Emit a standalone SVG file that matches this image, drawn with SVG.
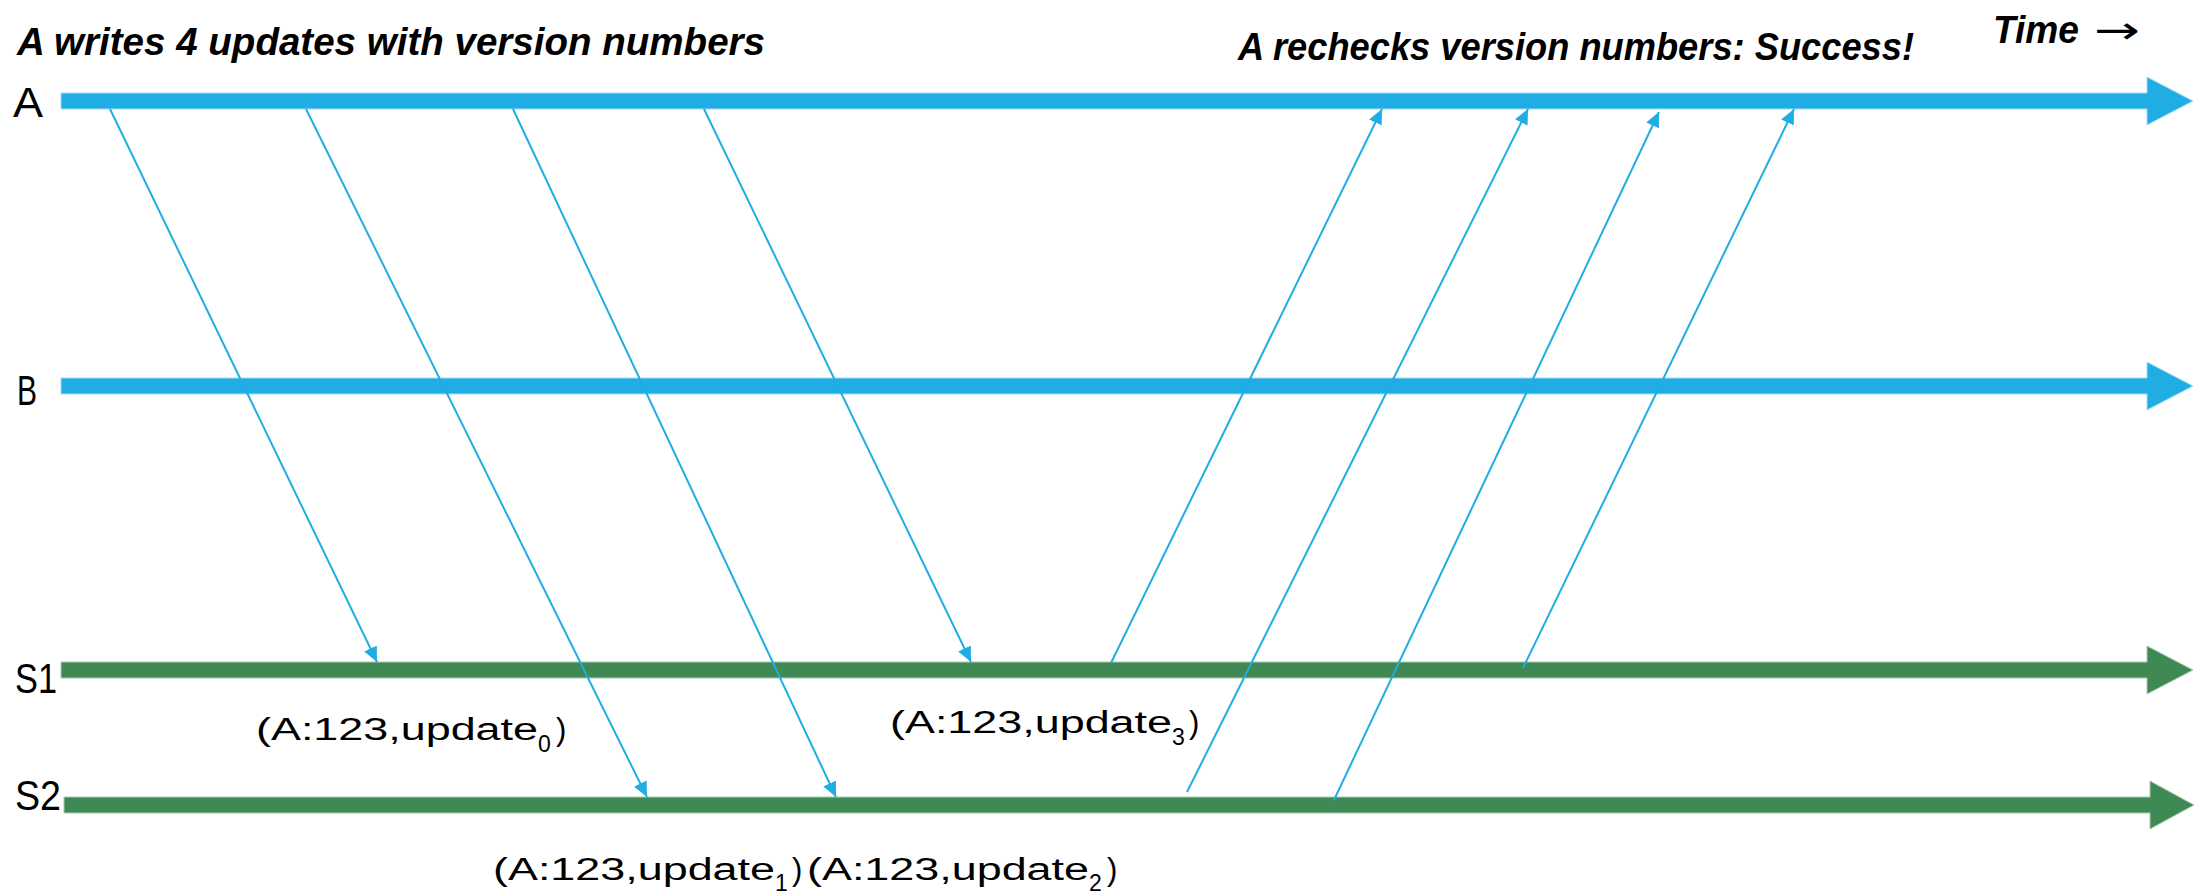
<svg xmlns="http://www.w3.org/2000/svg" width="2195" height="892" viewBox="0 0 2195 892">
<style>
.t{font-family:"Liberation Sans",Arial,sans-serif;fill:#000}
.title{font-size:38px;font-weight:bold;font-style:italic}
.node{font-size:42px}
.lbl{font-size:31px}
.sub{font-size:23px}
.blue{fill:#1FADE4;stroke:#A8DCF2;stroke-width:1}
.green{fill:#3E8954;stroke:#A9CBB2;stroke-width:1}
.msg{stroke:#1FADE4;stroke-width:2;fill:none;marker-end:url(#ah)}
</style>
<defs>
<marker id="ah" markerUnits="userSpaceOnUse" markerWidth="16" markerHeight="16" refX="15" refY="7" orient="auto">
<path d="M0,0 L15,7 L0,14 z" fill="#1FADE4"/>
</marker>
</defs>
<rect width="2195" height="892" fill="#fff"/>
<text class="t title" x="17" y="55" textLength="748" lengthAdjust="spacingAndGlyphs">A writes 4 updates with version numbers</text>
<text class="t title" x="1238" y="60" textLength="676" lengthAdjust="spacingAndGlyphs">A rechecks version numbers: Success!</text>
<text class="t title" x="1993" y="43" textLength="86" lengthAdjust="spacingAndGlyphs">Time</text>
<text x="2094" y="43" font-family="'DejaVu Sans',sans-serif" font-size="38" textLength="46" lengthAdjust="spacingAndGlyphs" fill="#000">→</text>

<g id="node-A">
<path class="blue" d="M61,93 H2147 V77 L2193,101 L2147,125 V109 H61 Z"/>
<text class="t node" x="13" y="117" textLength="30" lengthAdjust="spacingAndGlyphs">A</text>
</g>
<g id="node-B">
<path class="blue" d="M61,378 H2147 V362 L2193,386 L2147,410 V394 H61 Z"/>
<text class="t node" x="17" y="405" textLength="20" lengthAdjust="spacingAndGlyphs">B</text>
</g>
<g id="node-S1">
<path class="green" d="M61,662 H2147 V646 L2193,670 L2147,694 V678 H61 Z"/>
<text class="t node" x="15" y="693" textLength="42" lengthAdjust="spacingAndGlyphs">S1</text>
</g>
<g id="node-S2">
<path class="green" d="M64,797 H2150 V781 L2194,805 L2150,829 V813 H64 Z"/>
<text class="t node" x="15" y="810" textLength="46" lengthAdjust="spacingAndGlyphs">S2</text>
</g>

<g id="connectors">
<line class="msg" x1="110" y1="109" x2="377" y2="662"/>
<line class="msg" x1="306" y1="109" x2="647" y2="797"/>
<line class="msg" x1="513" y1="109" x2="836" y2="797"/>
<line class="msg" x1="704" y1="109" x2="971" y2="662"/>
<line class="msg" x1="1111" y1="663" x2="1382" y2="109"/>
<line class="msg" x1="1187" y1="792" x2="1528" y2="109"/>
<line class="msg" x1="1334" y1="800" x2="1659" y2="112"/>
<line class="msg" x1="1523" y1="668" x2="1794" y2="109"/>
</g>

<g id="label-update0">
<text class="t lbl" x="256" y="740" textLength="282" lengthAdjust="spacingAndGlyphs">(A:123,update</text>
<text class="t sub" x="538" y="752">0</text>
<text class="t lbl" x="556" y="740">)</text>
</g>
<g id="label-update3">
<text class="t lbl" x="890" y="733" textLength="282" lengthAdjust="spacingAndGlyphs">(A:123,update</text>
<text class="t sub" x="1172" y="745">3</text>
<text class="t lbl" x="1189" y="733">)</text>
</g>
<g id="label-update1">
<text class="t lbl" x="493" y="880" textLength="282" lengthAdjust="spacingAndGlyphs">(A:123,update</text>
<text class="t sub" x="775" y="891">1</text>
<text class="t lbl" x="792" y="880">)</text>
</g>
<g id="label-update2">
<text class="t lbl" x="807" y="880" textLength="282" lengthAdjust="spacingAndGlyphs">(A:123,update</text>
<text class="t sub" x="1089" y="891">2</text>
<text class="t lbl" x="1107" y="880">)</text>
</g>
</svg>
